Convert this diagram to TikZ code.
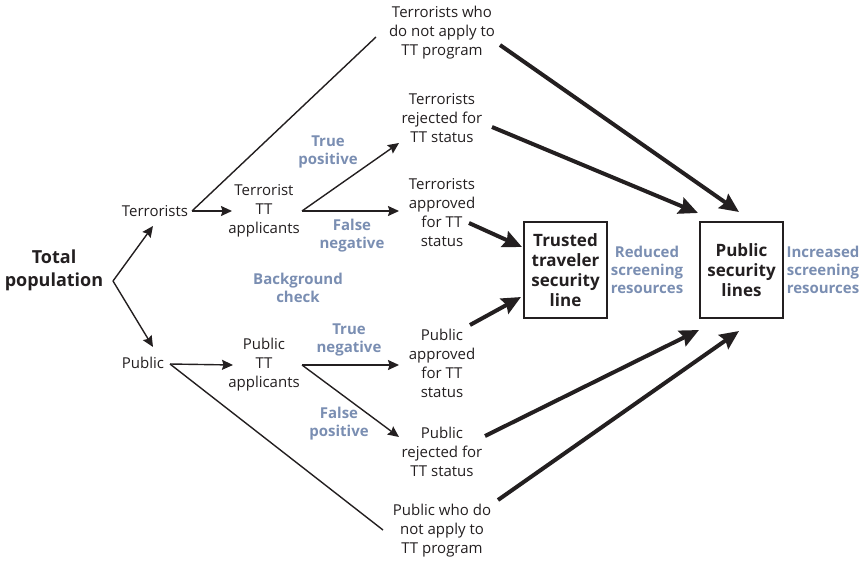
\documentclass[tikz,border=0pt]{standalone}
\usepackage{fontspec}
\setmainfont{Open Sans}
\usetikzlibrary{arrows.meta,calc}
\definecolor{lblue}{RGB}{122,142,178}
\definecolor{ink}{RGB}{35,31,32}
\begin{document}
\begin{tikzpicture}[x=1pt,y=-1pt,
  txt/.style={align=center, inner sep=0pt, font=\fontsize{15}{19}\selectfont, text=ink},
  lbl/.style={align=center, inner sep=0pt, font=\fontsize{15}{18}\selectfont\bfseries, text=lblue},
  boxn/.style={draw=ink, line width=1.2pt, minimum width=83pt, minimum height=96pt, align=center, inner sep=0pt, text=ink, font=\fontsize{17}{20}\selectfont\bfseries},
  thinarrow/.style={draw=ink, line width=1.4pt, -{Stealth[length=11pt,width=10pt,inset=1.5pt]}},
  thinline/.style={draw=ink, line width=1.4pt},
  thickarrow/.style={draw=ink, line width=4pt, -{Stealth[length=19pt,width=17pt,inset=2.5pt]}}
]
\useasboundingbox (0,0) rectangle (864,560);

% main nodes
\node[txt, font=\fontsize{18}{23}\selectfont\bfseries] (tp) at (54,270) {Total\\population};
\node[txt] (terr) at (155,211) {Terrorists};
\node[txt] (pub) at (143,363) {Public};
\node[txt] (ttt) at (264,211) {Terrorist\\TT\\applicants};
\node[txt] (ptt) at (264,365) {Public\\TT\\applicants};
\node[txt] (tna) at (442,33) {Terrorists who\\do not apply to\\TT program};
\node[txt] (trj) at (442,118) {Terrorists\\rejected for\\TT status};
\node[txt] (tap) at (442,213) {Terrorists\\approved\\for TT\\status};
\node[txt] (pap) at (442,363) {Public\\approved\\for TT\\status};
\node[txt] (prj) at (442,452) {Public\\rejected for\\TT status};
\node[txt] (pna) at (442,531) {Public who do\\not apply to\\TT program};
\node[boxn] (tts) at (565.5,270) {Trusted\\traveler\\security\\line};
\node[boxn] (psl) at (741.5,270) {Public\\security\\lines};

% blue labels
\node[lbl] (ltp) at (328,152) {True\\positive};
\node[lbl] (lfn) at (352,236) {False\\negative};
\node[lbl] (lbc) at (298,288) {Background\\check};
\node[lbl] (ltn) at (349,340) {True\\negative};
\node[lbl] (lfp) at (339,424) {False\\positive};
\node[lbl] (lrs) at (647,270) {Reduced\\screening\\resources};
\node[lbl] (lis) at (823,270) {Increased\\screening\\resources};

% thin connectors
\coordinate (tpv) at ($(tp)+(59,11)$);
\draw[thinarrow] (tpv) -- ($(terr)+(-2,15)$);
\draw[thinarrow] (tpv) -- ($(pub)+(10,-16)$);
\draw[thinarrow] ($(terr)+(37,0)$) -- ($(ttt)+(-32,0)$);
\draw[thinline] ($(terr)+(37,0)$) -- ($(tna)+(-66,4)$);
\draw[thinarrow] ($(ttt)+(38,0)$) -- ($(trj)+(-43,25)$);
\draw[thinarrow] ($(ttt)+(38,0)$) -- ($(tap)+(-43,-2)$);
\draw[thinarrow] ($(pub)+(27,1)$) -- ($(ptt)+(-31,0)$);
\draw[thinline] ($(pub)+(27,1)$) -- ($(pna)+(-59,-1)$);
\draw[thinarrow] ($(ptt)+(38,0)$) -- ($(pap)+(-43,2)$);
\draw[thinarrow] ($(ptt)+(38,0)$) -- ($(prj)+(-43,-15)$);

% thick connectors
\draw[thickarrow] ($(tna)+(58,12)$) -- ($(psl)+(-2.5,-58)$);
\draw[thickarrow] ($(trj)+(50,9)$) -- ($(psl)+(-43.5,-57)$);
\draw[thickarrow] ($(tap)+(27,10)$) -- ($(tts)+(-43.5,-23)$);
\draw[thickarrow] ($(pap)+(28,-38)$) -- ($(tts)+(-44.5,27)$);
\draw[thickarrow] ($(prj)+(43,-16)$) -- ($(psl)+(-42.5,60)$);
\draw[thickarrow] ($(pna)+(56,-31)$) -- ($(psl)+(-2.5,61)$);
\end{tikzpicture}
\end{document}
